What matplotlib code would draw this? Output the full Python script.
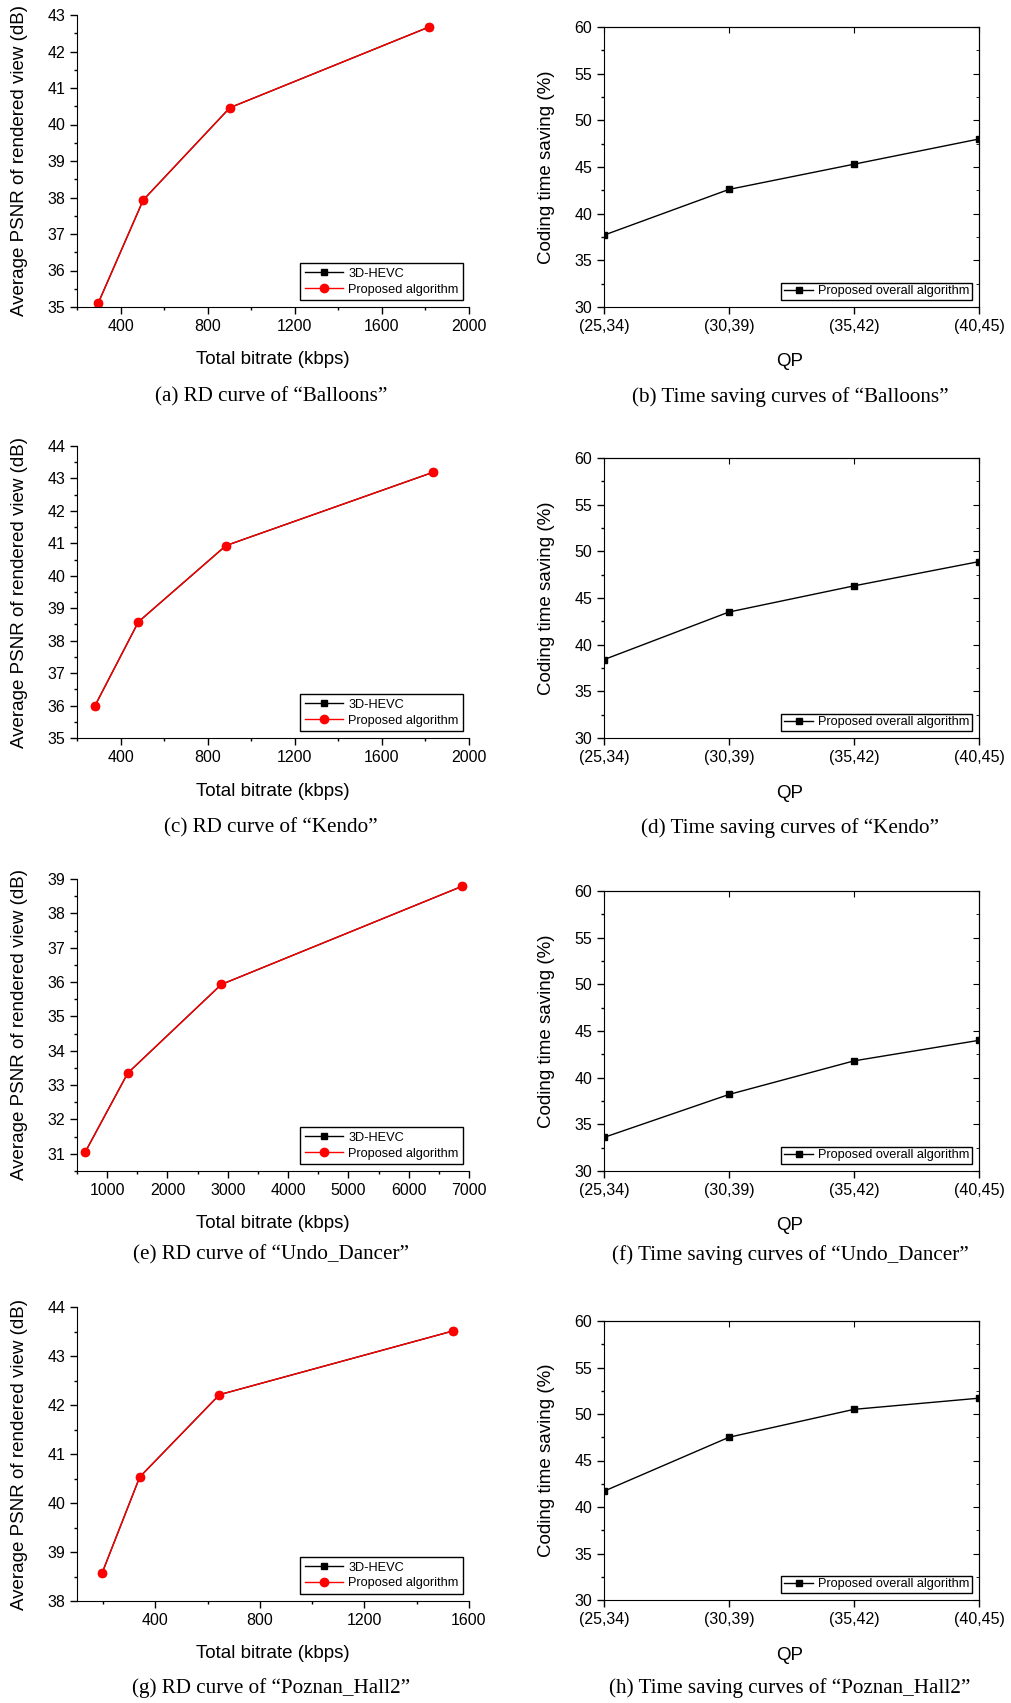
import numpy as np
import matplotlib
matplotlib.use("Agg")
import matplotlib.pyplot as plt
from matplotlib.ticker import MultipleLocator

plt.rcParams['font.family'] = ['Liberation Sans', 'DejaVu Sans']

# RD data (bitrate kbps, PSNR dB)
balloons_rate = [297, 504, 902, 1816]
balloons_hevc = [35.10, 37.93, 40.46, 42.67]
balloons_prop = [35.10, 37.93, 40.46, 42.67]

kendo_rate = [283, 482, 884, 1835]
kendo_hevc = [36.00, 38.58, 40.93, 43.19]
kendo_prop = [36.00, 38.58, 40.93, 43.19]

undo_rate = [636, 1342, 2893, 6889]
undo_hevc = [31.05, 33.35, 35.93, 38.79]
undo_prop = [31.05, 33.35, 35.93, 38.79]

poznan_rate = [196, 340, 645, 1538]
poznan_hevc = [38.57, 40.53, 42.21, 43.51]
poznan_prop = [38.57, 40.53, 42.21, 43.51]

# time saving (%)
qp_labels = ['(25,34)', '(30,39)', '(35,42)', '(40,45)']
balloons_ts = [37.7, 42.6, 45.3, 48.0]
kendo_ts = [38.4, 43.5, 46.3, 48.9]
undo_ts = [33.6, 38.2, 41.8, 44.0]
poznan_ts = [41.7, 47.5, 50.5, 51.7]

W, H = 1012, 1703
fig = plt.figure(figsize=(W / 100, H / 100), dpi=100)


def px_axes(x0, y0, x1, y1):
    return fig.add_axes([x0 / W, 1 - y1 / H, (x1 - x0) / W, (y1 - y0) / H])


def rd_panel(box, rate, hevc, prop, xlim, xmaj, xmin, ylim, caption, cap_y):
    ax = px_axes(*box)
    ax.plot(rate, hevc, '-s', color='black', lw=1, ms=5, label='3D-HEVC')
    ax.plot(rate, prop, '-o', color='red', lw=1, ms=6, label='Proposed algorithm')
    ax.set_xlim(*xlim)
    ax.set_ylim(*ylim)
    ax.xaxis.set_minor_locator(MultipleLocator(xmin))
    ax.yaxis.set_major_locator(MultipleLocator(1))
    ax.yaxis.set_minor_locator(MultipleLocator(0.5))
    ax.set_xticks([t for t in np.arange(xmaj, xlim[1] + 1, xmaj) if t > xlim[0]])
    for s in ['top', 'right']:
        ax.spines[s].set_visible(False)
    ax.tick_params(which='major', direction='out', length=5, width=1, labelsize=11.5)
    ax.tick_params(which='minor', direction='out', length=2.5, width=1)
    ax.set_xlabel('Total bitrate (kbps)', fontsize=13.5)
    ax.set_ylabel('Average PSNR of rendered view (dB)', fontsize=13.5)
    x0, y0, x1, y1 = box
    ax.xaxis.set_label_coords(0.5, -53 / (y1 - y0))
    ax.xaxis.label.set_va('center')
    ax.yaxis.set_label_coords((20 - x0) / (x1 - x0), 0.5)
    ax.yaxis.label.set_va('center')
    leg = ax.legend(loc='lower right', bbox_to_anchor=(0.985, 0.024), fontsize=9.2,
                    fancybox=False, edgecolor='black', framealpha=1,
                    handlelength=3.0, borderpad=0.35, labelspacing=0.3,
                    handletextpad=0.4, borderaxespad=0)
    leg.get_frame().set_linewidth(1)
    fig.text(271 / W, 1 - cap_y / H, caption, ha='center', va='center',
             fontsize=15.2, family='Liberation Serif')
    return ax


def ts_panel(box, ts, caption, cap_y):
    ax = px_axes(*box)
    x = np.arange(len(qp_labels))
    ax.plot(x, ts, '-s', color='black', lw=1, ms=4, label='Proposed overall algorithm')
    ax.set_xlim(0, 3)
    ax.set_ylim(30, 60)
    ax.set_xticks(x)
    ax.set_xticklabels(qp_labels)
    ax.yaxis.set_major_locator(MultipleLocator(5))
    ax.yaxis.set_minor_locator(MultipleLocator(2.5))
    ax.tick_params(which='major', direction='out', length=5, width=1, labelsize=11.5)
    ax.tick_params(which='minor', direction='out', length=2.5, width=1)
    top = ax.secondary_xaxis('top')
    top.set_xticks(x)
    top.tick_params(direction='in', length=4, labeltop=False)
    right = ax.secondary_yaxis('right')
    right.yaxis.set_major_locator(MultipleLocator(5))
    right.yaxis.set_minor_locator(MultipleLocator(2.5))
    right.tick_params(which='major', direction='in', length=4, labelright=False)
    right.tick_params(which='minor', direction='in', length=2.5)
    ax.set_xlabel('QP', fontsize=13.5)
    ax.set_ylabel('Coding time saving (%)', fontsize=13.5)
    x0, y0, x1, y1 = box
    ax.xaxis.set_label_coords((790 - x0) / (x1 - x0), -55 / (y1 - y0))
    ax.xaxis.label.set_va('center')
    ax.yaxis.set_label_coords((547 - x0) / (x1 - x0), 0.5)
    ax.yaxis.label.set_va('center')
    leg = ax.legend(loc='lower right', bbox_to_anchor=(0.982, 0.025), fontsize=9.2,
                    fancybox=False, edgecolor='black', framealpha=1,
                    handlelength=2.3, borderpad=0.2, labelspacing=0.3,
                    handletextpad=0.4, borderaxespad=0)
    leg.get_frame().set_linewidth(1)
    fig.text(790 / W, 1 - cap_y / H, caption, ha='center', va='center',
             fontsize=15.2, family='Liberation Serif')
    return ax


rows = [
    # left box, right box, caption y
    ((77, 15, 469, 307), (604, 27, 979, 307), 397),
    ((77, 446, 469, 738), (604, 458, 979, 738), 828),
    ((77, 879, 469, 1171), (604, 891, 979, 1171), 1255),
    ((77, 1307, 469, 1601), (604, 1321, 979, 1600), 1688),
]

rd_panel(rows[0][0], balloons_rate, balloons_hevc, balloons_prop, (200, 2000), 400, 200,
         (35, 43), '(a) RD curve of \u201cBalloons\u201d', rows[0][2])
ts_panel(rows[0][1], balloons_ts, '(b) Time saving curves of \u201cBalloons\u201d', rows[0][2])

rd_panel(rows[1][0], kendo_rate, kendo_hevc, kendo_prop, (200, 2000), 400, 200,
         (35, 44), '(c) RD curve of \u201cKendo\u201d', rows[1][2])
ts_panel(rows[1][1], kendo_ts, '(d) Time saving curves of \u201cKendo\u201d', rows[1][2])

rd_panel(rows[2][0], undo_rate, undo_hevc, undo_prop, (500, 7000), 1000, 500,
         (30.5, 39), '(e) RD curve of \u201cUndo_Dancer\u201d', rows[2][2])
ts_panel(rows[2][1], undo_ts, '(f) Time saving curves of \u201cUndo_Dancer\u201d', rows[2][2])

rd_panel(rows[3][0], poznan_rate, poznan_hevc, poznan_prop, (100, 1600), 400, 200,
         (38, 44), '(g) RD curve of \u201cPoznan_Hall2\u201d', rows[3][2])
ts_panel(rows[3][1], poznan_ts, '(h) Time saving curves of \u201cPoznan_Hall2\u201d', rows[3][2])

fig.savefig('out.png', dpi=100)
